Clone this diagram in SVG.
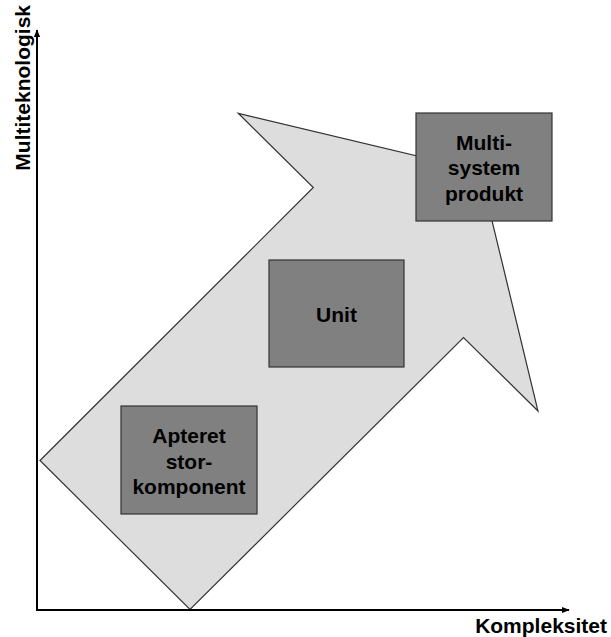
<svg xmlns="http://www.w3.org/2000/svg" width="611" height="637" viewBox="0 0 611 637">
<style>
.box{fill:#808080;stroke:#333333;stroke-width:1.2}
.t{font-family:"Liberation Sans",Arial,sans-serif;font-weight:bold;font-size:21px;fill:#000;text-anchor:middle}
.ax{font-family:"Liberation Sans",Arial,sans-serif;font-weight:bold;font-size:21px;fill:#000}
.axis{stroke:#000;stroke-width:2;fill:none}
</style>
<defs>
<marker id="ah" viewBox="0 0 10 10" refX="9" refY="5" markerWidth="8" markerHeight="8" markerUnits="userSpaceOnUse" orient="auto">
<path d="M0,1 L10,5 L0,9 z" fill="#000"/>
</marker>
</defs>
<g id="bigarrow">
<polygon points="40,460.5 313.3,187.5 238.3,113.3 480,171 538,411 463.5,337.5 190,609.5" fill="#dddddd" stroke="#333333" stroke-width="1.2" stroke-linejoin="miter"/>
</g>
<g id="connectors">
<line class="axis" x1="37" y1="611" x2="37" y2="30" marker-end="url(#ah)"/>
<line class="axis" x1="36" y1="610" x2="569" y2="610" marker-end="url(#ah)"/>
</g>
<g id="node-apteret">
<rect class="box" x="121" y="406" width="136" height="108"/>
<text class="t" x="189" y="443">Apteret</text>
<text class="t" x="189" y="468.5">stor-</text>
<text class="t" x="189" y="494">komponent</text>
</g>
<g id="node-unit">
<rect class="box" x="269" y="260" width="135" height="107"/>
<text class="t" x="336.5" y="321.5">Unit</text>
</g>
<g id="node-multi">
<rect class="box" x="416" y="113" width="136" height="108"/>
<text class="t" x="484" y="149.5">Multi-</text>
<text class="t" x="484" y="175">system</text>
<text class="t" x="484" y="200.5">produkt</text>
</g>
<g id="label-x">
<text class="ax" x="607" y="633" text-anchor="end">Kompleksitet</text>
</g>
<g id="label-y">
<text class="ax" transform="translate(29.5,5) rotate(-90)" text-anchor="end">Multiteknologisk</text>
</g>
</svg>
